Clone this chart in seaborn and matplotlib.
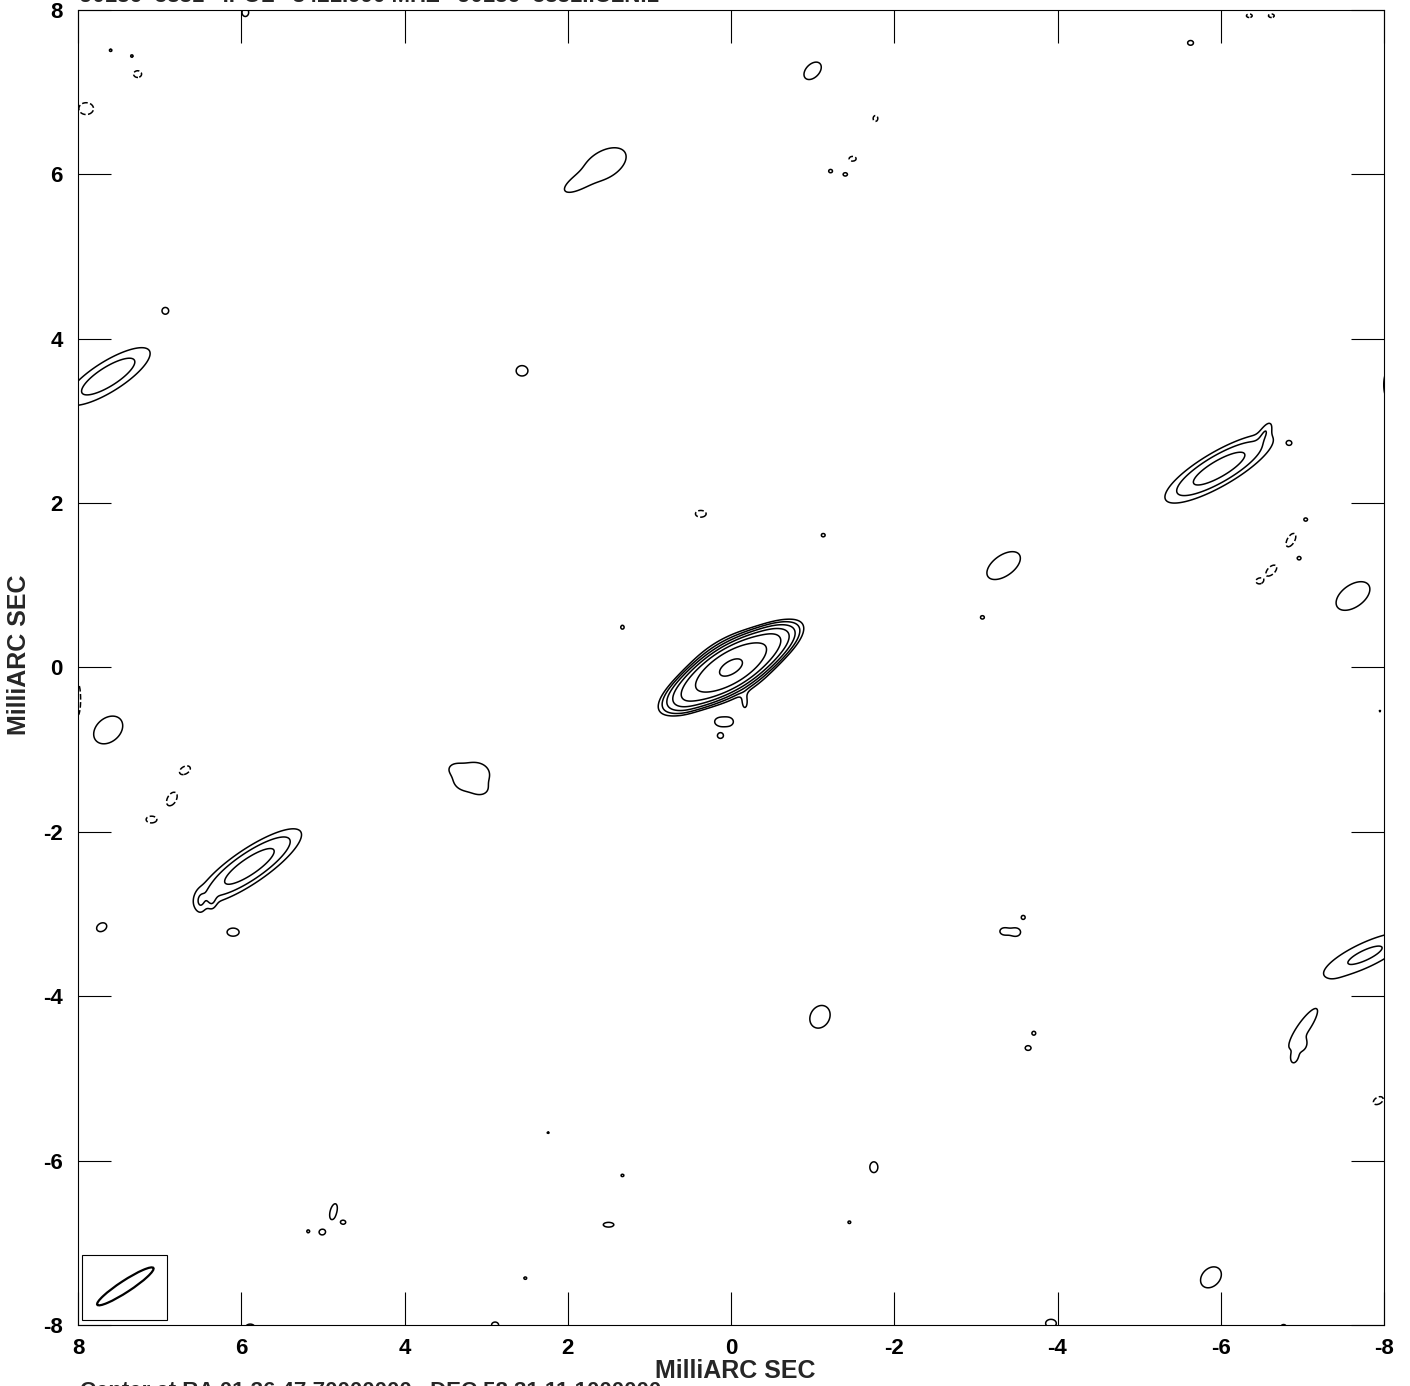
import numpy as np
import matplotlib
matplotlib.use("Agg")
import matplotlib.pyplot as plt
import seaborn as sns
from matplotlib.patches import Ellipse, Rectangle

# ---------------- data ----------------
TICKS = [8, 6, 4, 2, 0, -2, -4, -6, -8]
TICK_LABELS = ["8", "6", "4", "2", "0", "-2", "-4", "-6", "-8"]
LEVELS = [-1, 1, 2, 4, 8, 16, 32, 64]          # multiples of the lowest contour

TITLE = "J0136+5831   IPOL   8421.990 MHZ   J0136+5831.ICLN.1"
CENTER_TEXT = "Center at RA 01 36 47.70000000 , DEC 58 31 11.1000000"
AXIS_LABEL = "MilliARC SEC"

# flat-topped main body of the central source: x, y, peak, a, b, PA(deg on page)
PLATEAU = [0.0, 0.0, 32.0, 0.75, 0.22, 31.0]

# elliptical Gaussian components: x(mas), y(mas), peak, sigma_major, sigma_minor, PA(deg on page)
COMP_X = [0.0, 5.90, -5.98, 7.63, -7.77,
          1.55, 1.90, 7.63, 3.18, -3.34, -7.62, -5.88, -1.09, -7.01, -6.91, -7.01,
          2.56, 6.93, -1.00, 6.10, 7.71, -3.34, -3.49, -3.58, -3.64, -3.71, -1.75,
          1.33, -1.13, -3.08, -5.63, -6.84, -7.04, -6.96, -1.22, -1.40,
          0.15, 0.03, 0.13, 4.87, 4.75, 5.01, 5.18, 1.50, 1.33, 2.24, -1.45, 2.52,
          -8.06, 5.95, 5.89, 2.89, -3.92, -6.77, 7.60, 7.34, -7.95, 8.05,
          6.69, 6.85, 7.10, -6.86, -6.62, -6.47, 0.37, -1.77, -1.49, 7.90, 7.27,
          8.00, -7.93, -6.35, -6.62,
          -0.17, 6.50, 6.36, -6.55, 0.55, -0.50, 3.05, 3.40]
COMP_Y = [0.0, -2.42, 2.42, 3.54, -3.50,
          6.12, 5.88, -0.76, -1.33, 1.24, 0.87, -7.42, -4.25, -4.39, -4.75, -4.60,
          3.61, 4.34, 7.26, -3.22, -3.16, -3.21, -3.22, -3.04, -4.63, -4.45, -6.08,
          0.49, 1.61, 0.61, 7.60, 2.73, 1.80, 1.33, 6.04, 6.00,
          -0.66, -0.66, -0.83, -6.62, -6.75, -6.87, -6.86, -6.78, -6.18, -5.66, -6.75, -7.43,
          3.44, 7.97, -8.03, -8.00, -7.98, -8.03, 7.51, 7.44, -0.53, -3.45,
          -1.25, -1.60, -1.85, 1.55, 1.18, 1.05, 1.87, 6.68, 6.19, 6.80, 7.22,
          -0.40, -5.27, 7.93, 7.93,
          -0.43, -2.86, -2.84, 2.88, -0.42, 0.38, -1.50, -1.22]
COMP_PEAK = [39.0, 6.0, 6.0, 3.2, 2.3,
             1.6, 1.3, 1.5, 1.5, 1.5, 1.5, 1.5, 1.5, 1.5, 1.3, 1.3,
             1.5, 1.4, 1.5, 1.4, 1.4, 1.3, 1.4, 1.2, 1.3, 1.2, 1.4,
             1.2, 1.2, 1.2, 1.3, 1.2, 1.2, 1.2, 1.2, 1.2,
             1.3, 1.4, 1.3, 1.4, 1.2, 1.3, 1.2, 1.3, 1.15, 1.1, 1.15, 1.15,
             1.5, 1.4, 1.4, 1.3, 1.4, 1.3, 1.15, 1.15, 1.1, 1.4,
             -1.5, -1.5, -1.4, -1.5, -1.5, -1.3, -1.4, -1.3, -1.3, -1.5, -1.4,
             -1.4, -1.4, -1.3, -1.3,
             1.2, 1.2, 1.1, 1.3, 0.9, 0.9, 0.45, 0.45]
COMP_SMAJ = [0.25, 0.40, 0.40, 0.39, 0.43,
             0.30, 0.15, 0.22, 0.25, 0.26, 0.26, 0.16, 0.16, 0.32, 0.07, 0.06,
             0.08, 0.05, 0.14, 0.09, 0.08, 0.06, 0.07, 0.04, 0.05, 0.04, 0.08,
             0.04, 0.04, 0.04, 0.05, 0.04, 0.04, 0.04, 0.04, 0.045,
             0.06, 0.07, 0.05, 0.12, 0.05, 0.05, 0.03, 0.09, 0.035, 0.03, 0.035, 0.035,
             0.20, 0.06, 0.07, 0.06, 0.08, 0.05, 0.03, 0.03, 0.025, 0.20,
             0.08, 0.10, 0.08, 0.10, 0.09, 0.05, 0.08, 0.05, 0.06, 0.10, 0.06,
             0.25, 0.08, 0.05, 0.05,
             0.09, 0.10, 0.08, 0.10, 0.10, 0.10, 0.08, 0.08]
COMP_SMIN = [0.13, 0.11, 0.11, 0.12, 0.115,
             0.17, 0.06, 0.16, 0.19, 0.14, 0.15, 0.12, 0.13, 0.08, 0.04, 0.04,
             0.07, 0.05, 0.09, 0.06, 0.06, 0.05, 0.06, 0.04, 0.04, 0.04, 0.06,
             0.035, 0.035, 0.035, 0.04, 0.035, 0.035, 0.035, 0.035, 0.035,
             0.05, 0.06, 0.045, 0.05, 0.04, 0.045, 0.03, 0.04, 0.03, 0.025, 0.03, 0.03,
             0.07, 0.05, 0.05, 0.05, 0.06, 0.05, 0.03, 0.03, 0.02, 0.06,
             0.05, 0.06, 0.05, 0.05, 0.05, 0.04, 0.05, 0.04, 0.04, 0.08, 0.05,
             0.04, 0.05, 0.03, 0.03,
             0.04, 0.05, 0.04, 0.04, 0.07, 0.07, 0.06, 0.06]
COMP_PA = [31, 34, 30, 32, 25,
           30, 30, 40, 15, 35, 35, 45, 60, 55, 70, 70,
           0, 0, 45, 0, 30, 0, 0, 0, 0, 0, 90,
           90, 0, 0, 0, 0, 0, 0, 0, 0,
           0, 0, 0, 75, 0, 0, 0, 0, 0, 0, 0, 0,
           90, 90, 0, 0, 0, 0, 0, 0, 0, 90,
           30, 60, 0, 60, 45, 0, 0, 90, 0, 0, 0,
           90, 30, 0, 0,
           90, 90, 90, 60, 31, 31, 0, 0]

# restoring beam (drawn in the lower-left box)
BEAM = [7.42, -7.53, 0.82, 0.14, 33.0]   # x, y, major, minor, PA on page
BEAM_BOX = [6.91, -7.94, 1.04, 0.79]     # x0, y0, width, height

# ---------------- build the map ----------------
step = 0.0125
xs = np.arange(-8.4, 8.4 + step / 2, step)
X, Y = np.meshgrid(xs, xs)
F = np.zeros_like(X)


def local_uv(x0, y0, pa, reach):
    ix = np.where((xs > x0 - reach) & (xs < x0 + reach))[0]
    iy = np.where((xs > y0 - reach) & (xs < y0 + reach))[0]
    sl = np.ix_(iy, ix)
    t = np.deg2rad(pa)
    dx, dy = X[sl] - x0, Y[sl] - y0
    # x-axis runs from +8 (left) to -8 (right): page direction (cos t, sin t) = data (-cos t, sin t)
    u = -dx * np.cos(t) + dy * np.sin(t)
    v = dx * np.sin(t) + dy * np.cos(t)
    return sl, u, v


px, py, pk, pa_, pb_, ppa = PLATEAU
sl, u, v = local_uv(px, py, ppa, 3.0)
q = (u / pa_) ** 2 + (v / pb_) ** 2
F[sl] += pk * np.exp(-q ** 2)

for x0, y0, a, s1, s2, pa in zip(COMP_X, COMP_Y, COMP_PEAK, COMP_SMAJ, COMP_SMIN, COMP_PA):
    sl, u, v = local_uv(x0, y0, pa, 6 * max(s1, s2))
    F[sl] += a * np.exp(-0.5 * ((u / s1) ** 2 + (v / s2) ** 2))

# ---------------- draw ----------------
sns.set_style("ticks")
plt.rcParams["font.family"] = ["Liberation Sans", "DejaVu Sans"]
plt.rcParams["font.weight"] = "bold"

W, H = 1410, 1386
fig = plt.figure(figsize=(W / 100, H / 100), dpi=100)
fig.patch.set_facecolor("white")
ax = fig.add_axes([78 / W, 1 - 1325 / H, 1306 / W, 1315 / H])
ax.set_facecolor("white")

ax.contour(X, Y, F, levels=LEVELS, colors="black", linewidths=1.1,
           negative_linestyles="dashed")

ax.add_patch(Rectangle((BEAM_BOX[0], BEAM_BOX[1]), BEAM_BOX[2], BEAM_BOX[3],
                       fill=False, edgecolor="black", linewidth=0.8))
ax.add_patch(Ellipse((BEAM[0], BEAM[1]), BEAM[2], BEAM[3], angle=-BEAM[4],
                     fill=False, edgecolor="black", linewidth=1.6))

ax.set_xlim(8, -8)
ax.set_ylim(-8, 8)
ax.set_xticks(TICKS)
ax.set_xticklabels(TICK_LABELS)
ax.set_yticks(TICKS)
ax.set_yticklabels(TICK_LABELS)
ax.tick_params(axis="both", direction="in", length=24, width=0.8, colors="black",
               top=True, right=True, labelsize=16)
ax.tick_params(axis="x", pad=9)
ax.tick_params(axis="y", pad=11)
for lbl in ax.get_xticklabels() + ax.get_yticklabels():
    lbl.set_fontweight("bold")
for sp in ax.spines.values():
    sp.set_visible(True)
    sp.set_linewidth(0.8)
    sp.set_color("black")

ax.set_xlabel(AXIS_LABEL, fontsize=18, fontweight="bold")
ax.xaxis.set_label_coords(0.503, -0.0258)
ax.xaxis.label.set_va("top")
ax.set_ylabel(AXIS_LABEL, fontsize=18, fontweight="bold")
ax.yaxis.set_label_coords(-0.036, 0.5095)

fig.text(80 / W, 1 - 2.0 / H, TITLE, fontsize=16, fontweight="bold", va="baseline", ha="left")
fig.text(80 / W, 1 - 1381 / H, CENTER_TEXT, fontsize=16, fontweight="bold", va="top", ha="left")

fig.savefig("out.png", dpi=100, facecolor="white")
